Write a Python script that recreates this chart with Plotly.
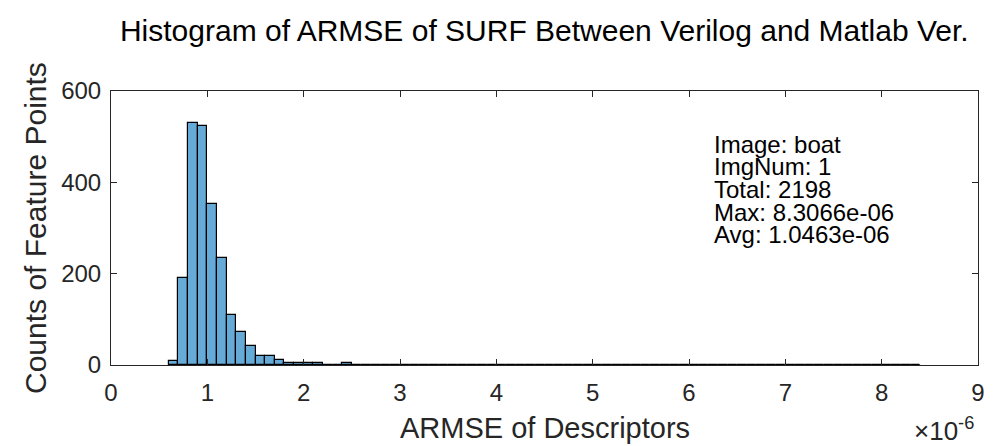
import plotly.graph_objects as go

# Histogram data (x in units of 1e-6)
bin_start = 0.6
bin_width = 0.1
counts = [9, 190, 529, 524, 353, 234, 109, 72, 41, 19, 19, 10, 4, 4, 4, 4, 1, 1, 4,
          0, 0, 0, 0, 0, 0, 0, 0, 0, 0, 0, 0, 0, 0, 0, 0, 0, 0, 0, 0, 0,
          0, 0, 0, 0, 0, 0, 0, 0, 0, 0, 0, 0, 0, 0, 0, 0, 0, 0, 0, 0,
          0, 0, 0, 0, 0, 0, 0, 0, 0, 0, 0, 0, 0, 0, 0, 0, 0, 1]

x_ticks = [0, 1, 2, 3, 4, 5, 6, 7, 8, 9]
y_ticks = [0, 200, 400, 600]
info_lines = ["Image: boat", "ImgNum: 1", "Total: 2198", "Max: 8.3066e-06", "Avg: 1.0463e-06"]

centers = [bin_start + bin_width * (i + 0.5) for i in range(len(counts))]
edges_first = bin_start
edges_last = bin_start + bin_width * len(counts)

FONT = "Liberation Sans, Arial, Helvetica, sans-serif"
AX = "rgb(38,38,38)"

fig = go.Figure()
fig.add_trace(go.Scatter(x=[edges_first, edges_last], y=[0, 0], mode="lines",
                         line=dict(color="black", width=1), hoverinfo="skip", showlegend=False))
fig.add_trace(go.Bar(x=centers, y=counts, width=bin_width,
                     marker=dict(color="rgb(102,170,215)", line=dict(color="black", width=1.2)),
                     showlegend=False))

fig.update_layout(
    width=996, height=446,
    margin=dict(l=111, r=18, t=91, b=81),
    plot_bgcolor="white", paper_bgcolor="white",
    font=dict(family=FONT, color=AX),
    bargap=0,
    title=dict(text="Histogram of ARMSE of SURF Between Verilog and Matlab Ver.",
               x=0.5465, xanchor="center", y=1 - 30 / 446, yanchor="middle",
               font=dict(size=30, color="black", family=FONT)),
)
fig.update_xaxes(range=[0, 9], tickvals=x_ticks, ticktext=[str(v) for v in x_ticks],
                 ticks="inside", ticklen=6, tickcolor=AX, showline=True, linecolor=AX,
                 linewidth=1, mirror="ticks", showgrid=False, zeroline=False,
                 tickfont=dict(size=24, color=AX), ticklabelstandoff=6)
fig.update_yaxes(range=[0, 600], tickvals=y_ticks, ticktext=[str(v) for v in y_ticks],
                 ticks="inside", ticklen=6, tickcolor=AX, showline=True, linecolor=AX,
                 linewidth=1, mirror="ticks", showgrid=False, zeroline=False,
                 tickfont=dict(size=24, color=AX), ticklabelstandoff=4)

ann = []
ann.append(dict(text="ARMSE of Descriptors", x=0.5, y=0, xref="paper", yref="paper",
                xanchor="center", yanchor="middle", yshift=-63, showarrow=False,
                font=dict(size=29, color=AX)))
ann.append(dict(text="Counts of Feature Points", x=0, y=0.5, xref="paper", yref="paper",
                xanchor="center", yanchor="middle", xshift=-76, textangle=-90, showarrow=False,
                font=dict(size=30, color=AX)))
ann.append(dict(text="×10<sup>-6</sup>", x=1, y=0, xref="paper", yref="paper",
                xanchor="right", yanchor="middle", xshift=-2, yshift=-64, showarrow=False,
                font=dict(size=26, color=AX)))
line_y = [0.803, 0.723, 0.642, 0.558, 0.478]
for txt, yy in zip(info_lines, line_y):
    ann.append(dict(text=txt, x=0.693, y=yy, xref="paper", yref="paper",
                    xanchor="left", yanchor="middle", showarrow=False,
                    font=dict(size=24, color="black")))
fig.update_layout(annotations=ann)

fig.write_html("out.html")
